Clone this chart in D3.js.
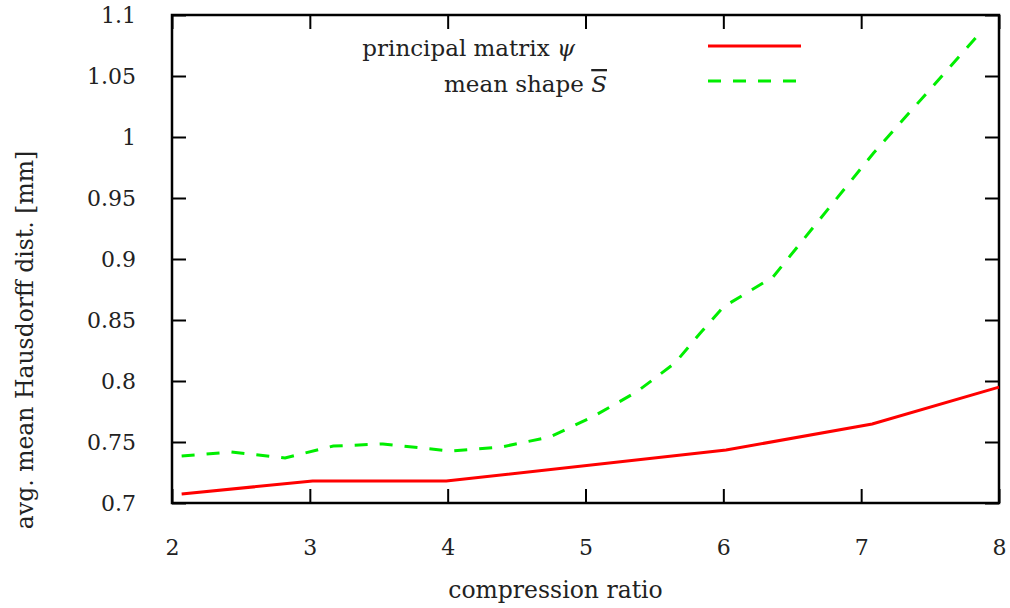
<!DOCTYPE html>
<html>
<head>
<meta charset="utf-8">
<script src="https://cdn.jsdelivr.net/npm/d3@7"></script>
<style>
  body { margin: 0; background: #fff; }
  text { font-family: "DejaVu Serif", serif; fill: #222; }
</style>
</head>
<body>
<div id="chart"></div>
<script>
var svgWidth = 1010; // whole picture
var svgHeight = 608;

var margin = { top: 15, right: 11, bottom: 105, left: 172 }; // frame of the plot area

var chartWidth = svgWidth - margin.left - margin.right;
var chartHeight = svgHeight - margin.top - margin.bottom;

// data
var ratioPsi = [2.07, 3.02, 3.99, 6.02, 7.08, 8.0];
var distPsi = [0.7074, 0.718, 0.718, 0.7434, 0.7648, 0.795];

var ratioMean = [2.07, 2.43, 2.82, 3.17, 3.53, 4.02, 4.39, 4.74, 5.05, 5.37, 5.65, 5.83, 6.0, 6.36, 7.09, 7.83];
var distMean = [0.7385, 0.7418, 0.7369, 0.7467, 0.7484, 0.7426, 0.7459, 0.7541, 0.7705, 0.791, 0.8148, 0.839, 0.8607, 0.8852, 0.9869, 1.0811];

var xTicks = [2, 3, 4, 5, 6, 7, 8];
var yTicks = [0.7, 0.75, 0.8, 0.85, 0.9, 0.95, 1, 1.05, 1.1];
var yTickLabels = ["0.7", "0.75", "0.8", "0.85", "0.9", "0.95", "1", "1.05", "1.1"];

var seriesNames = ["principal matrix ", "mean shape "];
var seriesSymbols = ["\u03c8", "S"];
var seriesColors = ["#ff0000", "#00ee00"];

var svg = d3.select("#chart")
    .append("svg")
    .attr("width", svgWidth)
    .attr("height", svgHeight);

var chartGroup = svg.append("g")
    .attr("transform", `translate(${margin.left}, ${margin.top})`);

var xScale = d3.scaleLinear().domain([2, 8]).range([0, chartWidth]);
var yScale = d3.scaleLinear().domain([0.7, 1.1]).range([chartHeight, 0]);

// gnuplot style: ticks pointing inwards on all four sides
var tickLen = 14;
function styleAxis(g) {
    g.select(".domain").remove();
    g.selectAll(".tick line").attr("stroke", "#000").attr("stroke-width", 2);
    g.selectAll(".tick text").attr("font-size", 22).attr("fill", "#222");
}

chartGroup.append("g")
    .attr("transform", `translate(0, ${chartHeight})`)
    .call(d3.axisBottom(xScale).tickValues(xTicks).tickFormat(d3.format("d"))
        .tickSizeInner(-tickLen).tickSizeOuter(0).tickPadding(36))
    .call(styleAxis);

chartGroup.append("g")
    .call(d3.axisTop(xScale).tickValues(xTicks).tickFormat("")
        .tickSizeInner(-tickLen).tickSizeOuter(0))
    .call(styleAxis);

chartGroup.append("g")
    .call(d3.axisLeft(yScale).tickValues(yTicks).tickFormat((d, i) => yTickLabels[i])
        .tickSizeInner(-tickLen).tickSizeOuter(0).tickPadding(36))
    .call(styleAxis);

chartGroup.append("g")
    .attr("transform", `translate(${chartWidth}, 0)`)
    .call(d3.axisRight(yScale).tickValues(yTicks).tickFormat("")
        .tickSizeInner(-tickLen).tickSizeOuter(0))
    .call(styleAxis);

// border
chartGroup.append("rect")
    .attr("width", chartWidth)
    .attr("height", chartHeight)
    .attr("fill", "none")
    .attr("stroke", "#000")
    .attr("stroke-width", 2.5);

var line = d3.line()
    .x(d => xScale(d[0]))
    .y(d => yScale(d[1]));

var psiData = ratioPsi.map((r, i) => [r, distPsi[i]]);
var meanData = ratioMean.map((r, i) => [r, distMean[i]]);

chartGroup.append("path")
    .datum(psiData)
    .attr("d", line)
    .attr("fill", "none")
    .attr("stroke", seriesColors[0])
    .attr("stroke-width", 3);

chartGroup.append("path")
    .datum(meanData)
    .attr("d", line)
    .attr("fill", "none")
    .attr("stroke", seriesColors[1])
    .attr("stroke-width", 3)
    .attr("stroke-dasharray", "13,12");

// legend, top middle
var legendRows = [
    { textX: 575, textY: 56, lineY: 46 },
    { textX: 607, textY: 92, lineY: 81 }
];
legendRows.forEach(function(row, i) {
    var t = svg.append("text")
        .attr("x", row.textX)
        .attr("y", row.textY)
        .attr("text-anchor", "end")
        .attr("font-size", 23);
    t.append("tspan").text(seriesNames[i]);
    var sym = t.append("tspan").attr("font-style", "italic").text(seriesSymbols[i]);
    if (i === 1) sym.style("text-decoration", "overline");
    svg.append("line")
        .attr("x1", 708).attr("x2", 801)
        .attr("y1", row.lineY).attr("y2", row.lineY)
        .attr("stroke", seriesColors[i])
        .attr("stroke-width", 3)
        .attr("stroke-dasharray", i === 1 ? "13,12" : null);
});

// axis titles
svg.append("text")
    .attr("x", margin.left + chartWidth / 2 - 30)
    .attr("y", 598)
    .attr("text-anchor", "middle")
    .attr("font-size", 23.5)
    .text("compression ratio");

svg.append("text")
    .attr("transform", "translate(33, 340) rotate(-90)")
    .attr("text-anchor", "middle")
    .attr("font-size", 23.5)
    .text("avg. mean Hausdorff dist. [mm]");
</script>
</body>
</html>
